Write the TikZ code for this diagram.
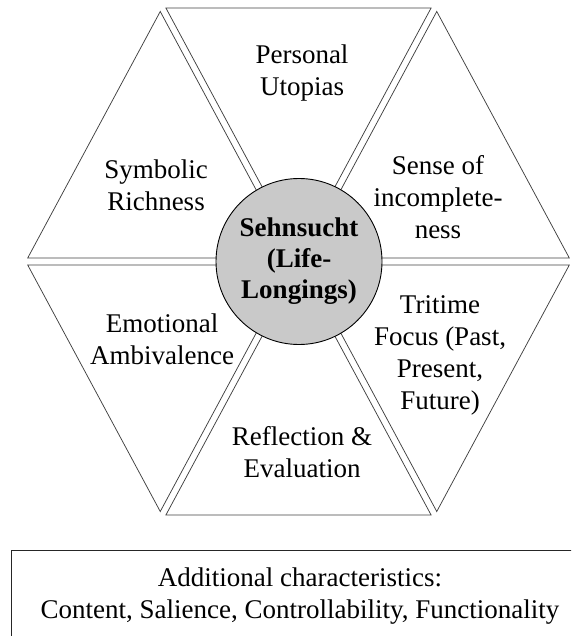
\documentclass[tikz,border=0pt]{standalone}
\usepackage{fontspec}
\setmainfont{Liberation Serif}
\usepackage{tikz}
\usepackage{xcolor}

\tikzset{
  facet/.style={draw=black!75, line width=0.75pt, line join=miter},
  facettext/.style={align=center, font=\fontsize{27}{32}\selectfont},
  core/.style={circle, draw=black, line width=0.9pt, fill=black!21, minimum size=166pt, inner sep=0pt,
    align=center, font=\fontsize{27}{31}\selectfont\bfseries}
}

\begin{document}
\begin{tikzpicture}[x=1pt,y=-1pt]
  \useasboundingbox (0,0) rectangle (571,636);
  \clip (0,0) rectangle (571,636);

  \draw[facet] (298.5,254.5) -- (165.9,8) -- (431.1,8) -- cycle;
  \draw[facet] (292.8,258) -- (27.7,258) -- (160.25,11.5) -- cycle;
  \draw[facet] (304.2,258) -- (569.3,258) -- (436.75,11.5) -- cycle;
  \draw[facet] (292.8,265) -- (27.7,265) -- (160.25,511.5) -- cycle;
  \draw[facet] (298.5,268.5) -- (165.9,515) -- (431.1,515) -- cycle;
  \draw[facet] (304.2,265) -- (569.3,265) -- (436.75,511.5) -- cycle;

  \node[core] (sehnsucht) at (299,261.5) {Sehnsucht\\(Life-\\Longings)};

  \node[facettext] (utopias) at (302,73.5) {Personal\\Utopias};
  \node[facettext] (symbolic) at (156,185) {Symbolic\\Richness};
  \node[facettext] (incomplete) at (438,197) {Sense of\\incomplete-\\ness};
  \node[facettext] (tritime) at (440,355) {Tritime\\Focus (Past,\\Present,\\Future)};
  \node[facettext] (ambivalence) at (162,339.5) {Emotional\\Ambivalence};
  \node[facettext] (reflection) at (302,452.5) {Reflection \&\\Evaluation};

  \draw[black!85, line width=1pt] (11,550) rectangle (580,650);
  \node[facettext] (additional) at (300,596) {Additional characteristics:\\Content, Salience, Controllability, Functionality};
\end{tikzpicture}
\end{document}
